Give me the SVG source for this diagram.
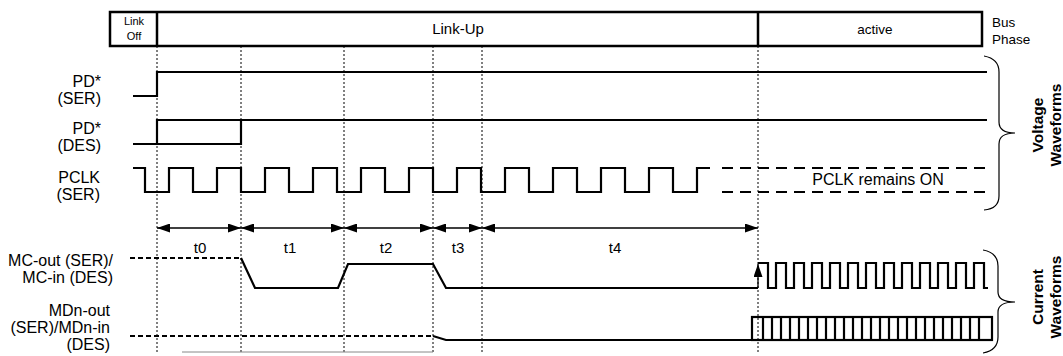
<svg xmlns="http://www.w3.org/2000/svg" width="1063" height="356" viewBox="0 0 1063 356">
<style>
text{font-family:"Liberation Sans",Arial,sans-serif;fill:#000}
.lbl{font-size:16px;text-anchor:end}
.ctr{text-anchor:middle}
.bold{font-weight:bold;font-size:15.5px;text-anchor:middle}
.wave{fill:none;stroke:#000;stroke-width:2.2}
.dash{fill:none;stroke:#000;stroke-width:2.2;stroke-dasharray:5,3}
.ldash{fill:none;stroke:#000;stroke-width:2.2;stroke-dasharray:11,7}
.dot{stroke:#000;stroke-width:1;stroke-dasharray:2,2}
.arr{stroke:#000;stroke-width:1.3;fill:none}
.brace{fill:none;stroke:#000;stroke-width:1.2}
</style>
<defs>
<marker id="ah" viewBox="0 0 13 9" refX="13" refY="4.5" markerWidth="13" markerHeight="9" markerUnits="userSpaceOnUse" orient="auto-start-reverse">
<path d="M0,0 L13,4.5 L0,9 Z" fill="#000"/>
</marker>
</defs>

<g id="bus-phase">
<rect x="110" y="12" width="872" height="34" fill="#fff" stroke="#000" stroke-width="2.5"/>
<line x1="157" y1="12" x2="157" y2="46" stroke="#000" stroke-width="2.5"/>
<line x1="758" y1="12" x2="758" y2="46" stroke="#000" stroke-width="2.5"/>
<text x="134" y="25" class="ctr" font-size="11">Link</text>
<text x="134" y="40" class="ctr" font-size="11">Off</text>
<text x="458" y="34" class="ctr" font-size="15">Link-Up</text>
<text x="875" y="34" class="ctr" font-size="13.5">active</text>
<text x="992" y="27" font-size="13.5">Bus</text>
<text x="992" y="44" font-size="13.5">Phase</text>
</g>

<g id="markers">
<line class="dot" x1="157" y1="46" x2="157" y2="352"/>
<line class="dot" x1="241" y1="46" x2="241" y2="352"/>
<line class="dot" x1="344" y1="46" x2="344" y2="352"/>
<line class="dot" x1="433" y1="46" x2="433" y2="352"/>
<line class="dot" x1="482" y1="46" x2="482" y2="352"/>
<line class="dot" x1="758" y1="46" x2="758" y2="352"/>
</g>

<g id="pd-ser">
<text x="101" y="87" class="lbl">PD*</text>
<text x="101" y="104" class="lbl">(SER)</text>
<path class="wave" d="M133,96 H157 V72 H987"/>
</g>

<g id="pd-des">
<text x="101" y="134" class="lbl">PD*</text>
<text x="101" y="151" class="lbl">(DES)</text>
<path class="wave" d="M133,144 H241 V120"/>
<path class="wave" d="M157,144 V120 H987"/>
</g>

<g id="pclk-ser">
<text x="100" y="183" class="lbl">PCLK</text>
<text x="100" y="200" class="lbl">(SER)</text>
<path class="wave" d="M133,168 H145 V192 H169 V168 H193 V192 H217 V168 H241 V192 H265 V168 H289 V192 H313 V168 H337 V192 H361 V168 H385 V192 H409 V168 H433 V192 H457 V168 H481 V192 H505 V168 H529 V192 H553 V168 H577 V192 H601 V168 H625 V192 H649 V168 H673 V192 H697 V168 H710"/>
<path class="ldash" d="M722,168 H987 M722,192 H987"/>
<text x="878" y="185" class="ctr" font-size="16">PCLK remains ON</text>
</g>

<g id="timing">
<line class="arr" x1="157" y1="228" x2="241" y2="228" marker-start="url(#ah)" marker-end="url(#ah)"/>
<line class="arr" x1="241" y1="228" x2="344" y2="228" marker-start="url(#ah)" marker-end="url(#ah)"/>
<line class="arr" x1="344" y1="228" x2="433" y2="228" marker-start="url(#ah)" marker-end="url(#ah)"/>
<line class="arr" x1="433" y1="228" x2="482" y2="228" marker-start="url(#ah)" marker-end="url(#ah)"/>
<line class="arr" x1="482" y1="228" x2="758" y2="228" marker-start="url(#ah)" marker-end="url(#ah)"/>
<text x="200" y="253" class="ctr" font-size="15">t0</text>
<text x="290" y="253" class="ctr" font-size="15">t1</text>
<text x="386" y="253" class="ctr" font-size="15">t2</text>
<text x="458" y="253" class="ctr" font-size="15">t3</text>
<text x="615" y="253" class="ctr" font-size="15">t4</text>
</g>

<g id="mc">
<text x="113" y="266" class="lbl">MC-out (SER)/</text>
<text x="113" y="283" class="lbl">MC-in (DES)</text>
<path class="dash" d="M130,258 H241"/>
<path class="wave" d="M241,258 L255,288 H338 L348,264 H433 L446,288 H758"/>
<line class="arr" stroke-width="1.5" x1="758" y1="288" x2="758" y2="264" marker-end="url(#ah)"/>
<path class="wave" d="M758,263 H768 V288 H776 V263 H786 V288 H794 V263 H804 V288 H812 V263 H822 V288 H830 V263 H840 V288 H848 V263 H858 V288 H866 V263 H876 V288 H884 V263 H894 V288 H902 V263 H912 V288 H920 V263 H930 V288 H938 V263 H948 V288 H956 V263 H966 V288 H974 V263 H984 V288 H988"/>
</g>

<g id="mdn">
<text x="110" y="316" class="lbl">MDn-out</text>
<text x="110" y="333" class="lbl">(SER)/MDn-in</text>
<text x="110" y="350" class="lbl">(DES)</text>
<path class="dash" d="M130,336 H433"/>
<path class="wave" d="M433,336 L446,340 H752"/>
<rect x="752" y="317" width="240" height="23" fill="none" stroke="#000" stroke-width="2.2"/>
<path class="wave" d="M763,317 V340 M772,317 V340 M781,317 V340 M790,317 V340 M799,317 V340 M808,317 V340 M817,317 V340 M826,317 V340 M835,317 V340 M844,317 V340 M853,317 V340 M862,317 V340 M871,317 V340 M880,317 V340 M889,317 V340 M898,317 V340 M907,317 V340 M916,317 V340 M925,317 V340 M934,317 V340 M943,317 V340 M952,317 V340 M961,317 V340 M970,317 V340 M979,317 V340"/>
<line x1="182" y1="352" x2="433" y2="352" stroke="#888" stroke-width="1"/>
</g>

<g id="voltage-brace">
<path class="brace" d="M984,56 C995,58 999,64 999,72 V122 C999,130 1005,133 1015,133 C1005,133 999,136 999,144 V196 C999,204 995,209 984,210"/>
<text class="bold" transform="translate(1043,125) rotate(-90)"><tspan x="0" y="0">Voltage</tspan><tspan x="0" y="18">Waveforms</tspan></text>
</g>

<g id="current-brace">
<path class="brace" d="M983,250 C994,252 998,258 998,266 V292 C998,299 1005,302 1015,302 C1005,302 998,305 998,312 V337 C998,345 994,351 983,353"/>
<text class="bold" transform="translate(1043,297) rotate(-90)"><tspan x="0" y="0">Current</tspan><tspan x="0" y="18">Waveforms</tspan></text>
</g>
</svg>
